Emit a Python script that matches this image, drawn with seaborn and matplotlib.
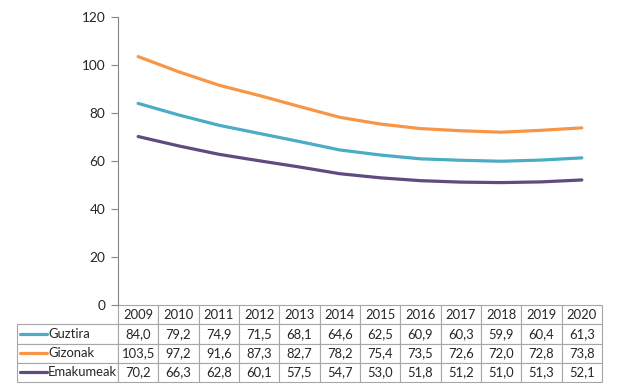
import matplotlib
matplotlib.use("Agg")
import matplotlib.pyplot as plt
import pandas as pd
import seaborn as sns
from matplotlib.lines import Line2D

years = [str(y) for y in range(2009, 2021)]
guztira = [84.0, 79.2, 74.9, 71.5, 68.1, 64.6, 62.5, 60.9, 60.3, 59.9, 60.4, 61.3]
gizonak = [103.5, 97.2, 91.6, 87.3, 82.7, 78.2, 75.4, 73.5, 72.6, 72.0, 72.8, 73.8]
emakumeak = [70.2, 66.3, 62.8, 60.1, 57.5, 54.7, 53.0, 51.8, 51.2, 51.0, 51.3, 52.1]

series = {"Guztira": guztira, "Gizonak": gizonak, "Emakumeak": emakumeak}
colors = {"Guztira": "#4BACC6", "Gizonak": "#F79646", "Emakumeak": "#5F4B7F"}

rows = []
for name, vals in series.items():
    for i, v in enumerate(vals):
        rows.append({"pos": i, "year": years[i], "value": v, "serie": name})
df = pd.DataFrame(rows)

sns.set_style("white")
plt.rcParams["font.family"] = ["Lato", "DejaVu Sans"]

W, H = 638, 390
fig = plt.figure(figsize=(W / 100, H / 100), dpi=100)
x0, x1, y_top, y_zero, y_bot = 118, 602, 17, 305, 382
ax = fig.add_axes([x0 / W, 1 - y_zero / H, (x1 - x0) / W, (y_zero - y_top) / H])

sns.lineplot(data=df, x="pos", y="value", hue="serie", palette=colors,
             linewidth=2.3, sort=False, legend=False, ax=ax)
ax.set_xlim(-0.5, len(years) - 0.5)
ax.set_ylim(0, 120)
ax.set_yticks(range(0, 121, 20))
ax.set_xticks([])
ax.set_xlabel("")
ax.set_ylabel("")
for s in ["top", "right", "bottom"]:
    ax.spines[s].set_visible(False)
ax.spines["left"].set_color("#868686")
ax.tick_params(axis="y", length=5, color="#868686", labelsize=9.8, labelcolor="#262626", pad=4, left=True)

# data table under the plot
edge = "#A6A6A6"
plot_w = x1 - x0
tab_h = (y_bot - y_zero) / (y_zero - y_top)
lab_w = (x0 - 17) / plot_w
cell_text = [[""] + years] + [[""] + [f"{v:.1f}".replace(".", ",") for v in vals]
                               for vals in series.values()]
col_w = [lab_w] + [1 / len(years)] * len(years)
tab = ax.table(cellText=cell_text, colWidths=col_w, cellLoc="center",
               bbox=[-lab_w, -tab_h, 1 + lab_w, tab_h])
tab.auto_set_font_size(False)
for (r, c), cell in tab.get_celld().items():
    cell.set_edgecolor(edge)
    cell.set_linewidth(0.8)
    cell.get_text().set_fontsize(9.4)
    cell.get_text().set_color("#262626")
tab[0, 0].visible_edges = ""

# legend keys in the label column
row_h = (y_bot - y_zero) / 4
for k, name in enumerate(series):
    yc = y_zero + row_h * (k + 1.5)
    fig.add_artist(Line2D([20 / W, 47 / W], [1 - yc / H, 1 - yc / H],
                          color=colors[name], linewidth=2.3))
    fig.text(48 / W, 1 - yc / H, name, va="center", ha="left", fontsize=9.4, color="#262626")

fig.savefig("out.png", dpi=100)
